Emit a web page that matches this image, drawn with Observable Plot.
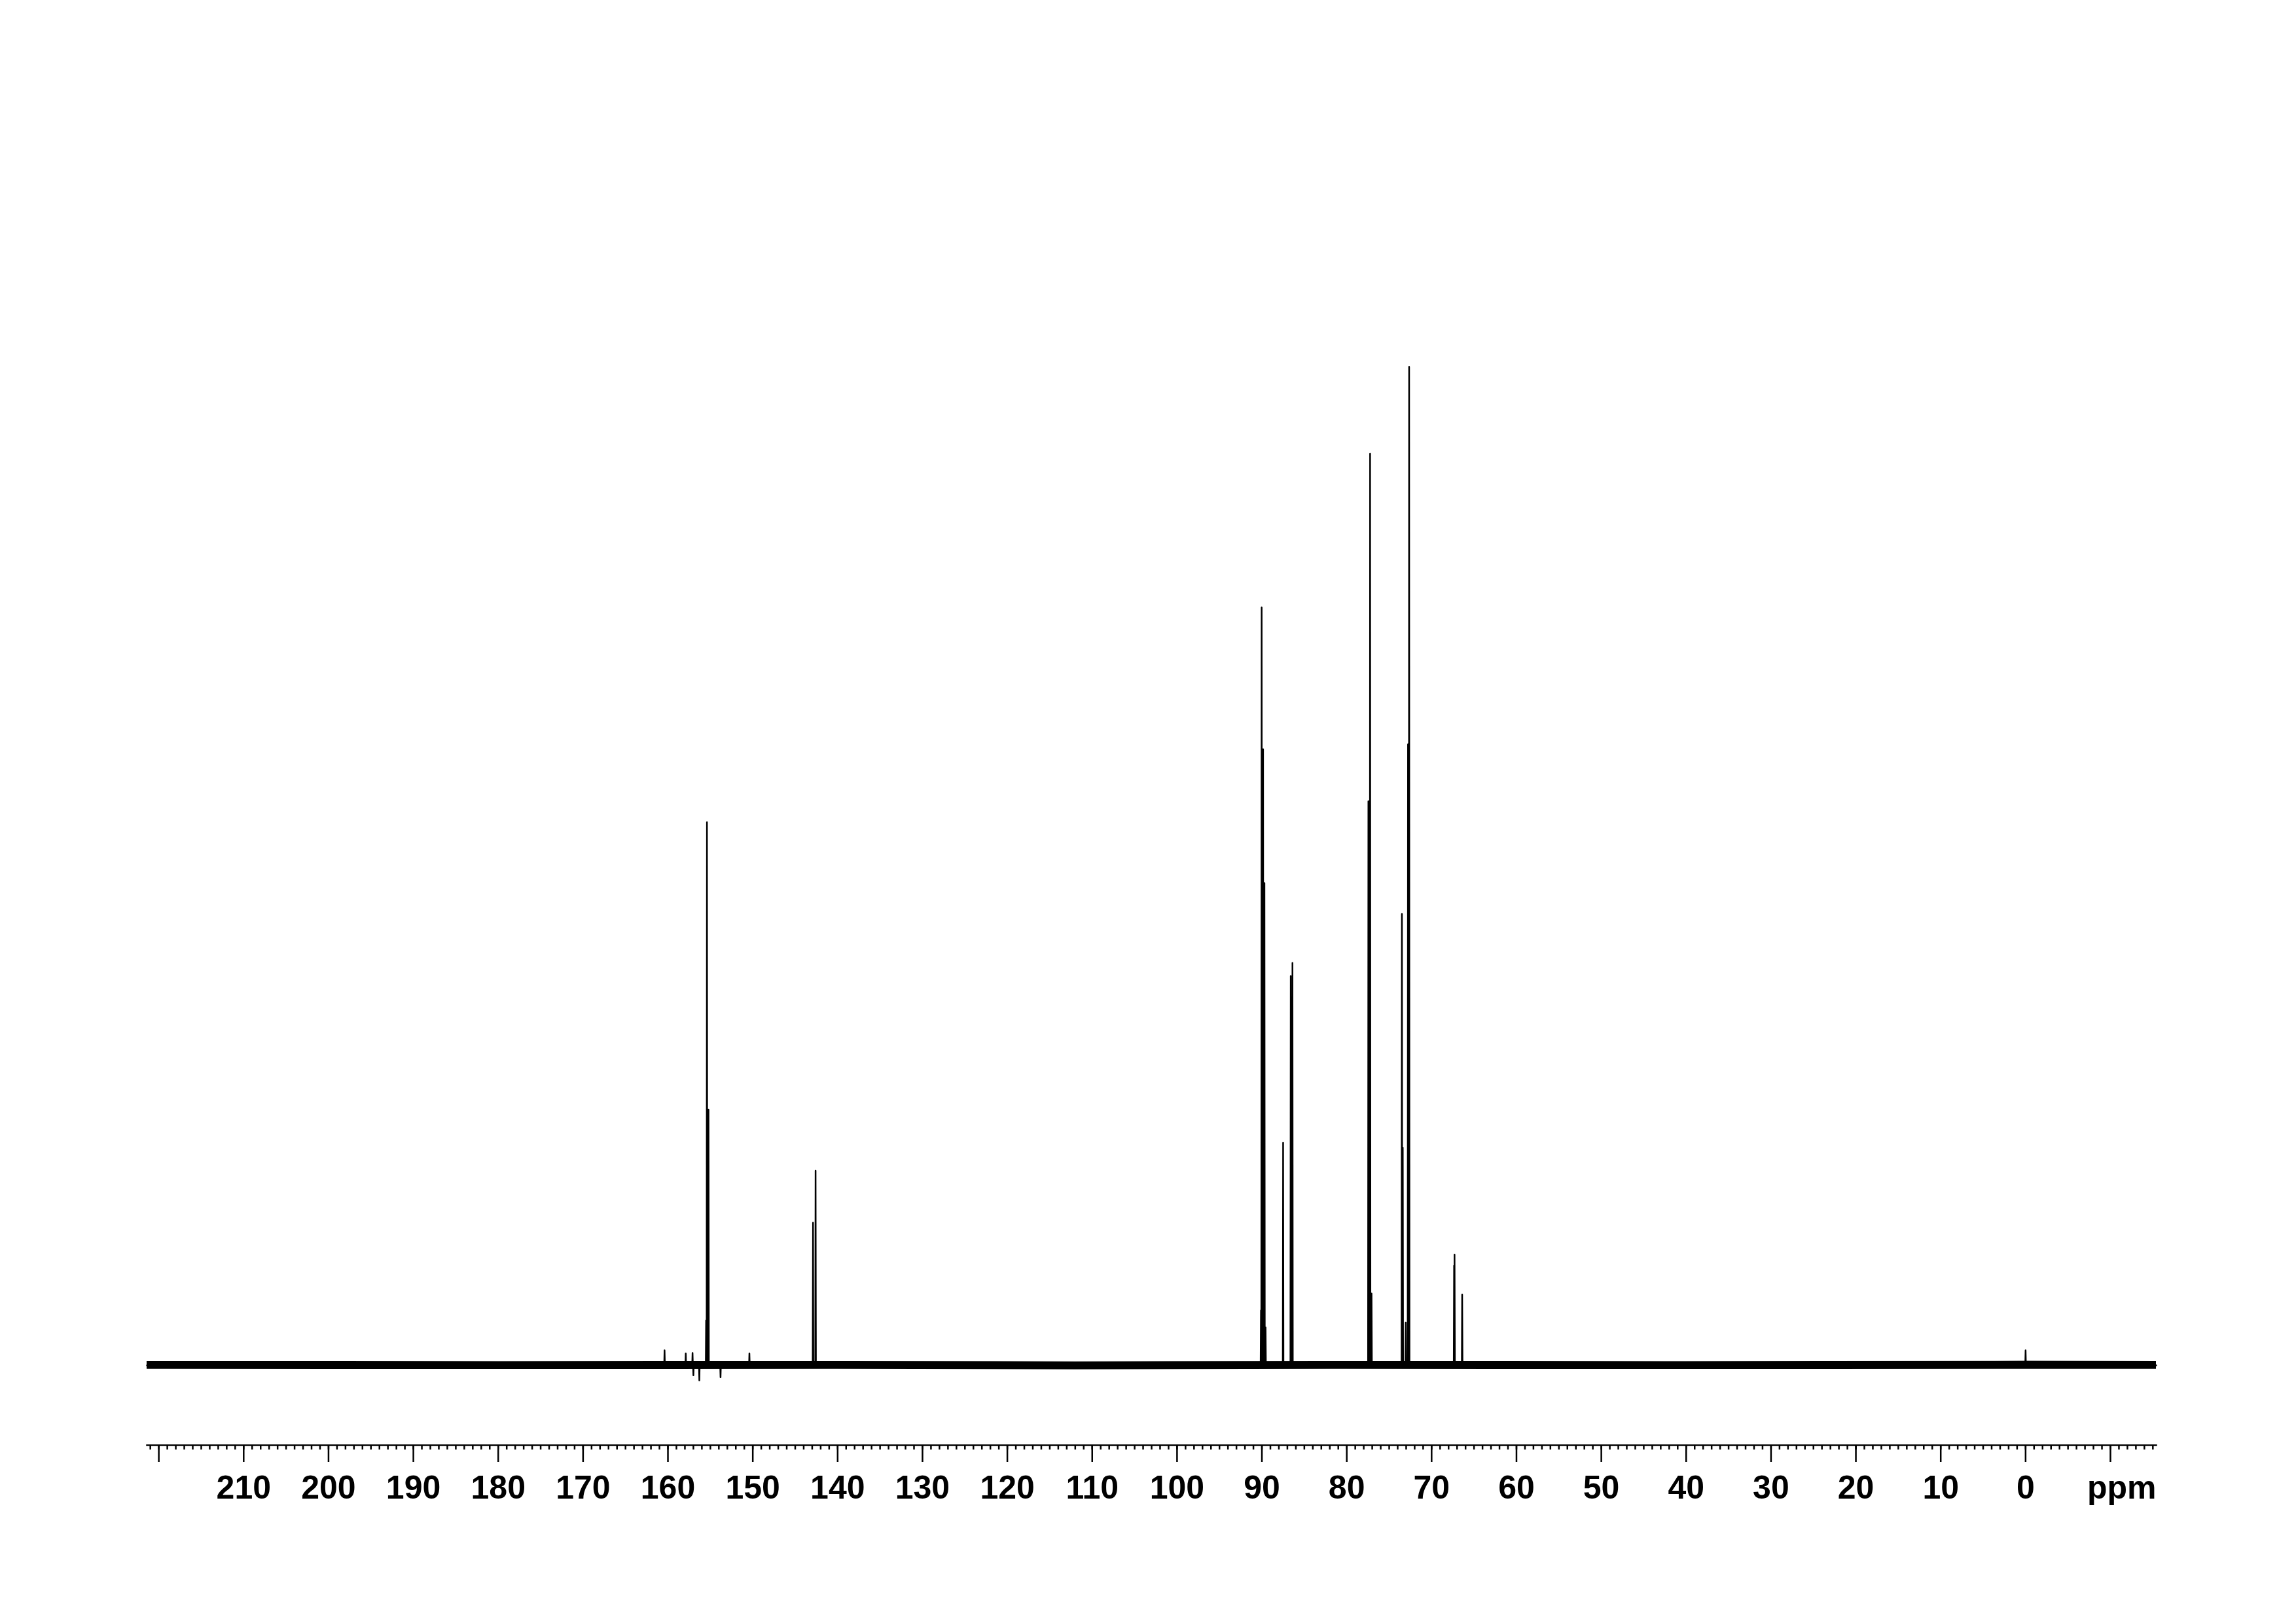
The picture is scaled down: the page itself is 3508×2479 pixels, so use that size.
<!DOCTYPE html>
<html><head><meta charset="utf-8">
<script src="https://cdn.jsdelivr.net/npm/d3@7"></script>
<script src="https://cdn.jsdelivr.net/npm/@observablehq/plot@0.6"></script>
<style>html,body{margin:0;padding:0;background:#fff;} svg{display:block}</style>
</head><body><div id="chart"></div>
<script>
// Peak positions (ppm) and intensities (% of tallest peak)
const peakPpm = [160.4, 157.9, 157.1, 157.0, 156.3, 155.5, 155.4, 155.22, 153.8, 150.4,
                 142.9, 142.6,
                 90.11, 90.03, 89.86, 89.70, 89.57, 87.5, 86.6, 86.4,
                 77.45, 77.25, 77.08, 73.5, 73.4, 73.05, 72.78, 72.65,
                 67.35, 67.3, 66.4, 0.0];
const peakIntensity = [1.5, 1.2, 1.25, -1.0, -1.5, 4.5, 54.4, 25.6, -1.2, 1.2,
                       14.3, 19.5,
                       5.5, 75.9, 61.7, 48.3, 3.8, 22.3, 39.0, 40.3,
                       56.5, 91.3, 7.2, 45.2, 21.8, 4.3, 62.2, 100,
                       10.0, 11.1, 7.1, 1.5];
// Baseline noise envelope
const noisePpm = [221.4, 180, 140, 112, 80, 40, 0, -15.4];
const noiseLow = [-0.38, -0.4, -0.38, -0.42, -0.38, -0.4, -0.38, -0.38];
const noiseHigh = [0.4, 0.38, 0.4, 0.36, 0.4, 0.38, 0.42, 0.4];
// Axis ticks
const majorTicks = [220, 210, 200, 190, 180, 170, 160, 150, 140, 130, 120, 110, 100, 90, 80, 70, 60, 50, 40, 30, 20, 10, 0, -10];
const majorLabels = ["", "210", "200", "190", "180", "170", "160", "150", "140", "130", "120", "110", "100", "90", "80", "70", "60", "50", "40", "30", "20", "10", "0", ""];
const minorTicks = d3.range(-15, 222, 1);
const xDomain = [221.4, -15.4];
const yDomain = [-8, 123];

const halfWidth = 0.04;
const spectrum = [{ppm: xDomain[0], i: 0}, {ppm: xDomain[1], i: 0}];
peakPpm.forEach((p, k) => {
  spectrum.push({ppm: p + halfWidth, i: 0}, {ppm: p, i: peakIntensity[k]}, {ppm: p - halfWidth, i: 0});
});
spectrum.sort((a, b) => b.ppm - a.ppm);
const noise = noisePpm.map((p, k) => ({ppm: p, lo: noiseLow[k], hi: noiseHigh[k]}));
const labelMap = new Map(majorTicks.map((t, k) => [t, majorLabels[k]]));

const chart = Plot.plot({
  width: 3508, height: 2479,
  marginLeft: 224, marginRight: 214, marginTop: 209, marginBottom: 272,
  x: {domain: xDomain, axis: null, label: null},
  y: {domain: yDomain, axis: null, label: null},
  style: {fontFamily: "'Liberation Sans', Arial, sans-serif", fontSize: "50px", fontWeight: "bold", color: "#000", background: "#fff"},
  marks: [
    Plot.areaY(noise, {x: "ppm", y1: "lo", y2: "hi", fill: "#000"}),
    Plot.line(spectrum, {x: "ppm", y: "i", stroke: "#000", strokeWidth: 2.5}),
    Plot.frame({anchor: "bottom", stroke: "#000", strokeWidth: 2.5}),
    Plot.axisX(minorTicks, {anchor: "bottom", tickSize: 7, tickFormat: () => "", strokeWidth: 2.5, label: null}),
    Plot.axisX(majorTicks, {anchor: "bottom", tickSize: 26, tickPadding: 20, tickFormat: d => labelMap.get(d), strokeWidth: 2.5, fontSize: 50, fontWeight: "bold", label: null}),
    Plot.text(["ppm"], {frameAnchor: "bottom-right", textAnchor: "end", lineAnchor: "top", dy: 46, fontSize: 50, fontWeight: "bold"})
  ]
});
document.getElementById("chart").appendChild(chart);
</script>
</body></html>
